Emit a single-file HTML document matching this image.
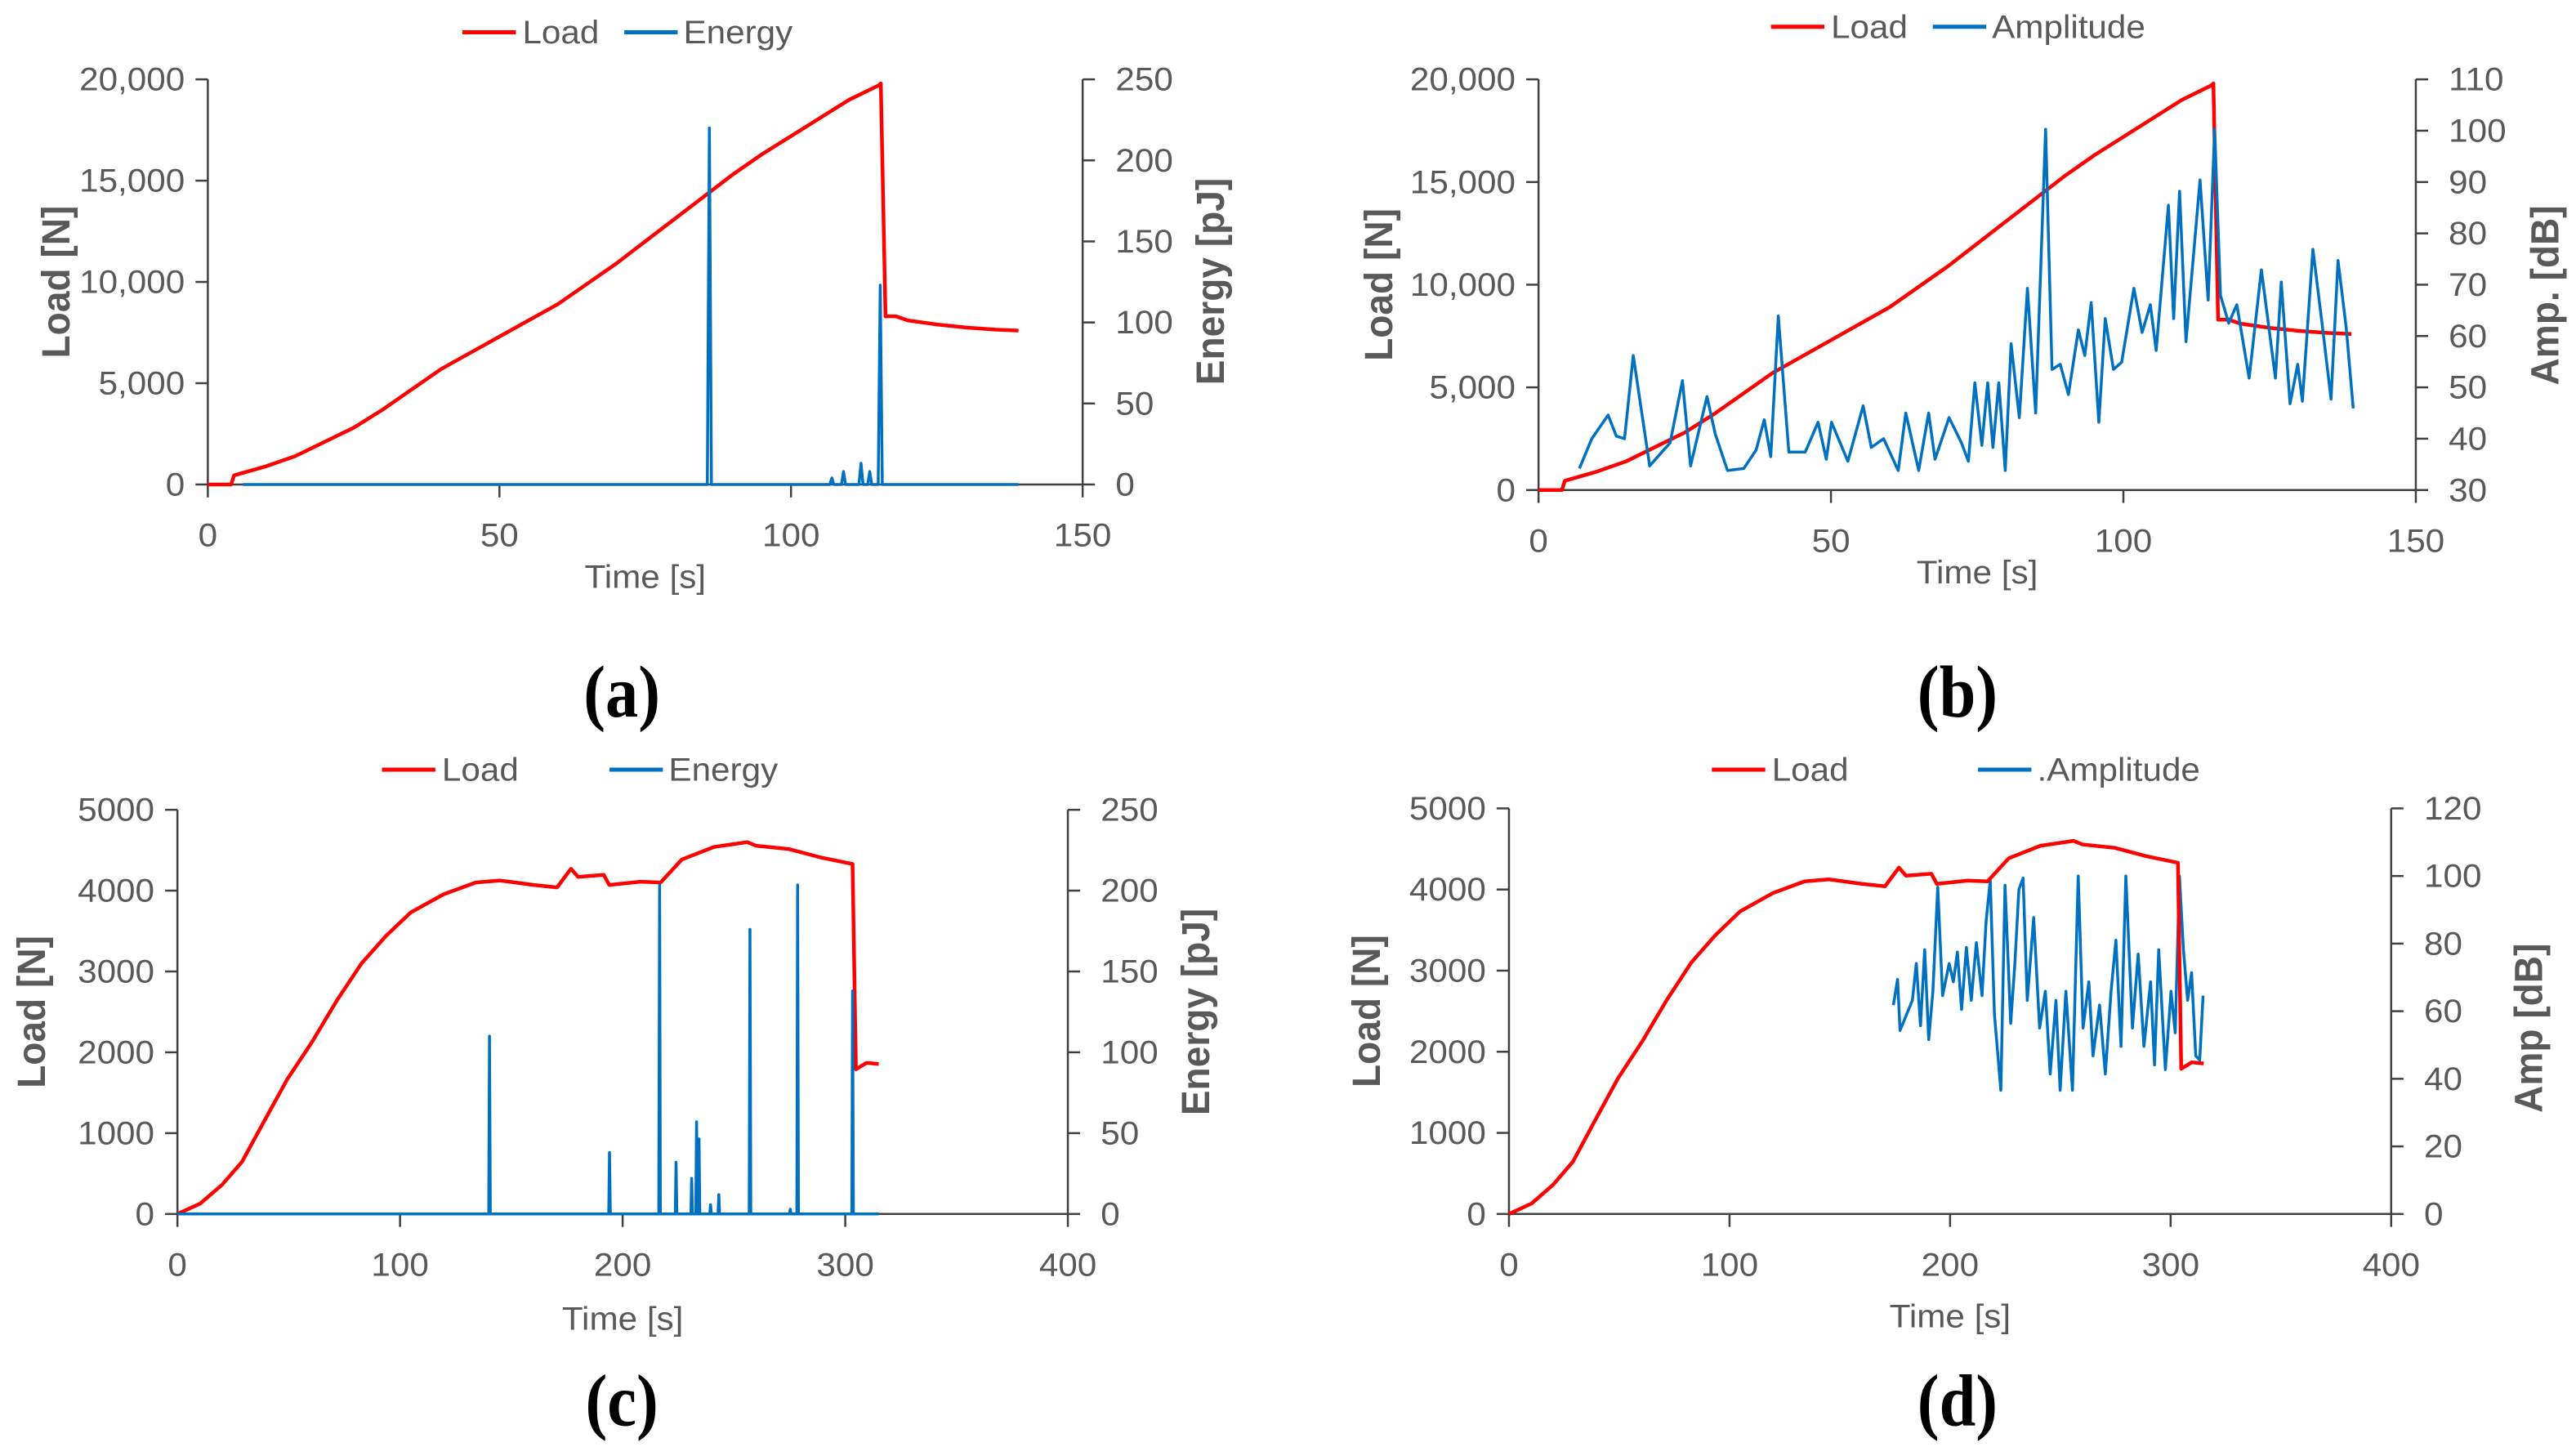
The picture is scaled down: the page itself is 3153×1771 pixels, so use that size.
<!DOCTYPE html>
<html><head><meta charset="utf-8"><style>
html,body{margin:0;padding:0;background:#fff;}
svg{display:block;}
</style></head><body>
<svg id="fig" width="3153" height="1771" viewBox="0 0 3136 3136" preserveAspectRatio="none" xmlns="http://www.w3.org/2000/svg"></svg>
<script>
// ---- Data: panel (a) / (b) ----
const loadAT = [0,4,4.5,10,15,20,25,30,35,40,45,50,55,60,65,70,75,80,85,90,95,100,105,110,115,115.4,116.2,118,120,125,130,135,139];
const loadAV = [0,0,450,900,1400,2100,2800,3700,4700,5700,6500,7300,8100,8900,9900,10900,12000,13100,14200,15300,16300,17200,18100,19000,19700,19800,8300,8300,8100,7900,7750,7650,7600];
const energyAT = [86,107,109,112,113.5,115.3];
const energyAV = [220,4,8,13,8,123];
const energyARange = [6,139];
const ampBT = [7,9.1,11.9,13.3,14.7,16.2,19,20.4,22.5,24.6,26,28.8,30.2,32.3,35.1,37.2,38.6,39.7,41,42.8,45.6,47.8,49.2,50.1,52.9,55.5,56.9,59,61.5,62.8,65,66.7,67.8,70.2,72.3,73.5,74.6,75.8,76.8,77.7,78.7,79.8,80.8,82.2,83.6,85,86.7,87.8,89.2,90.6,92.3,93.4,94.5,95.8,96.9,98.3,99.7,101.8,103.2,104.6,105.6,107.7,108.6,109.6,110.7,113.1,114.5,115.6,116.6,118,119.4,121.5,123.6,126,127,128.5,129.8,130.6,132.4,134.1,135.5,136.7,138.1,139.3];
const ampBV = [34.2,40,44.6,40.5,40,56.2,34.7,36.5,39.2,51.3,34.7,48.2,41,33.8,34.2,37.8,43.7,36.5,63.9,37.4,37.4,43.2,36,43.2,35.6,46.4,38.3,40,33.8,45,33.8,45,36,44.1,39.2,35.6,50.9,38.7,50.9,38.3,50.9,33.8,58.5,44.1,69.3,45,100.3,53.5,54.5,48.6,61.2,56.2,66.5,43.2,63.4,53.5,54.9,69.3,60.7,66.1,57.2,85.5,63.4,88.2,58.9,90.4,67,100.3,67.9,62.5,66.1,51.8,72.9,51.8,70.5,46.8,54.5,47.3,76.9,61.2,47.7,74.7,61.6,45.9];
// ---- Data: panel (c) / (d) ----
const loadCT = [0,10.3,20,29,38,49.4,60.5,71.6,82.7,93.7,104.8,119.6,134,145,160,170.5,176.8,180,191.5,194,208,217,226.6,241,256,260,274.5,289,303.3,304.8,309.6,315];
const loadCV = [0,130,360,645,1100,1670,2130,2640,3100,3440,3730,3955,4100,4125,4070,4040,4270,4170,4195,4070,4110,4100,4385,4540,4600,4555,4515,4410,4330,1790,1870,1855];
const energyCT = [140.2,194.1,216.6,224,231,233.2,234.3,239.5,243.2,257.2,275.3,278.6,303.3];
const energyCV = [110,38,203.5,32,22,57,46.5,5.7,12,176,3,203.5,138];
const energyCRange = [0,315];
const ampDT = [174.3,176.2,177.3,182.9,184.7,186.6,188.5,190.3,192.2,194.4,196.6,199.6,201.5,203.3,205.2,207.4,209.6,211.9,214.5,216.3,218.2,220.1,223,224.9,227.5,229.4,231.2,233.1,235,237.9,240.6,243.2,245.4,248,249.9,252.5,255.5,258.1,260.3,262.9,264.8,267.8,270.4,273,275.2,277.5,279.7,282.7,285.3,287.9,290.9,292.7,294.6,297.6,300.2,302.1,304,305.8,307.7,309.5,311.4,313.2,314.7];
const ampDV = [61.8,69.4,54.3,63.2,74.1,55.7,78.2,51.6,65.9,96.7,64.6,74.1,68.7,77.5,60.5,78.9,63.2,80.3,64.6,86.4,98.7,59.1,36.6,97.3,56.4,74.1,96,99.4,63.2,87.7,55,65.9,41.4,63.2,36.6,65.9,36.6,100,55,68.7,46.8,61.8,41.4,65.9,81,49.6,100,55,76.9,49.6,68.7,44.1,78.2,42.7,65.9,53.6,100,78.2,63.2,71.4,46.8,45.5,64.6];
// tick labels
const xTicksAB = [0,50,100,150];
const xTicksCD = [0,100,200,300,400];
const yTicksAB = [0,5000,10000,15000,20000];
const yTicksCD = [0,1000,2000,3000,4000,5000];
const rTicksA = [0,50,100,150,200,250];
const rTicksB = [30,40,50,60,70,80,90,100,110];
const rTicksC = [0,50,100,150,200,250];
const rTicksD = [0,20,40,60,80,100,120];

const NS = 'http://www.w3.org/2000/svg';
const svg = document.getElementById('fig');
const GREY = '#595959', AX = '#404040', RED = '#ff0000', BLUE = '#0070c0';
const OY = 1568;
function el(tag, attrs, parent){const e=document.createElementNS(NS,tag);for(const k in attrs)e.setAttribute(k,attrs[k]);(parent||svg).appendChild(e);return e;}
function txt(parent,x,y,s,opt){
  opt=opt||{};
  const sx=opt.sx||0.6, sy=opt.sy||1, size=opt.size||70;
  const g=el('g',{transform:`translate(${x},${y}) rotate(${opt.rot||0}) scale(${sx},${sy})`},parent);
  const t=el('text',{x:0,y:0,'font-family':opt.font||'"Liberation Sans", sans-serif','font-size':size,'font-weight':opt.bold?'bold':'normal',fill:opt.fill||GREY,'text-anchor':opt.anchor||'middle','dominant-baseline':'central'},g);
  t.textContent=s;
  return t;
}
function panel(c){
  const g=el('g',{});
  
  
  const X=t=>c.L+(t-c.x0)/(c.x1-c.x0)*(c.R-c.L);
  const Y=v=>c.B-(v-c.y0)/(c.y1-c.y0)*(c.B-c.T);
  const Y2=v=>c.B-(v-c.r0)/(c.r1-c.r0)*(c.B-c.T);
  const axes=el('g',{stroke:AX,'stroke-width':2.5,fill:'none'},g);
  
  
  const ln=(a)=>{a['vector-effect']='non-scaling-stroke';return el('line',a,axes);};
  ln({x1:c.L,y1:c.T,x2:c.L,y2:c.B});
  ln({x1:c.R,y1:c.T,x2:c.R,y2:c.B});
  ln({x1:c.L,y1:c.B,x2:c.R,y2:c.B});
  c.yt.forEach(v=>{ln({x1:c.L-15,y1:Y(v),x2:c.L,y2:Y(v)});
    const t=txt(g,c.L-28,Y(v),c.fmtY(v),{anchor:'end'});});
  c.rt.forEach(v=>{ln({x1:c.R,y1:Y2(v),x2:c.R+15,y2:Y2(v)});
    const t=txt(g,c.R+40,Y2(v),String(v),{anchor:'start'});});
  c.xt.forEach(v=>{ln({x1:X(v),y1:c.B,x2:X(v),y2:c.B+28});
    const t=txt(g,X(v),c.B+110,String(v),{});});
  let t=txt(g,(c.L+c.R)/2,c.xTitleY,'Time [s]',{});
  t=txt(g,c.yTitleX,(c.T+c.B)/2,'Load [N]',{rot:-90,sx:1.7,size:48,bold:true});
  t=txt(g,c.rTitleX,c.rTitleY,c.rTitle,{rot:-90,sx:1.7,size:48,bold:true});
  const lg=el('g',{},g);
  const e1=el('line',{x1:c.leg[0],y1:c.legY,x2:c.leg[0]+65,y2:c.legY,stroke:RED,'stroke-width':5,'vector-effect':'non-scaling-stroke'},lg);
  
  t=txt(lg,c.leg[0]+73,c.legY,'Load',{anchor:'start'});
  const e2=el('line',{x1:c.leg[1],y1:c.legY,x2:c.leg[1]+65,y2:c.legY,stroke:BLUE,'stroke-width':5,'vector-effect':'non-scaling-stroke'},lg);
  
  t=txt(lg,c.leg[1]+72,c.legY,c.blueName,{anchor:'start'});
  let pts;
  if(c.spikeT){
    const arr=[[c.range[0],0]];
    c.spikeT.map((tt,i)=>[tt,c.spikeV[i]]).sort((a,b)=>a[0]-b[0]).forEach(([tt,v])=>{arr.push([tt-0.35,0],[tt,v],[tt+0.35,0]);});
    arr.push([c.range[1],0]);
    pts=arr.map(p=>X(p[0]).toFixed(1)+','+Y2(p[1]).toFixed(1)).join(' ');
  } else {
    pts=c.bT.map((tt,i)=>X(tt).toFixed(1)+','+Y2(c.bV[i]).toFixed(1)).join(' ');
  }
  const bl=el('polyline',{points:pts,fill:'none',stroke:BLUE,'stroke-width':3.5,'stroke-linejoin':'round','vector-effect':'non-scaling-stroke'},g);
  
  
  const rp=c.lT.map((tt,i)=>X(tt).toFixed(1)+','+Y(c.lV[i]).toFixed(1)).join(' ');
  const rl=el('polyline',{points:rp,fill:'none',stroke:RED,'stroke-width':4.5,'stroke-linejoin':'round','vector-effect':'non-scaling-stroke'},g);
  
  
  if(c.blueOnTop) g.appendChild(bl);
  t=txt(g,c.capX,c.capY,c.cap,{sx:0.5,size:160,bold:true,fill:'#000',font:'"Liberation Serif", serif'});
  
}
const comma=v=>v.toLocaleString('en-US');
panel({name:'panel-a',L:253,R:1318,T:172,B:1050,x0:0,x1:150,y0:0,y1:20000,r0:0,r1:250,
  xt:xTicksAB,yt:yTicksAB,rt:rTicksA,fmtY:comma,xTitleY:1250,yTitleX:68,rTitleX:1473,rTitleY:610,rTitle:'Energy [pJ]',
  leg:[563,760],legY:70,blueName:'Energy',spikeT:energyAT,spikeV:energyAV,range:energyARange,lT:loadAT,lV:loadAV,
  cap:'(a)',capX:757,capY:1500,blueOnTop:true});
panel({name:'panel-b',L:1568+305,R:1568+1373,T:172,B:1062,x0:0,x1:150,y0:0,y1:20000,r0:30,r1:110,
  xt:xTicksAB,yt:yTicksAB,rt:rTicksB,fmtY:comma,xTitleY:1240,yTitleX:1568+110,rTitleX:1568+1530,rTitleY:640,rTitle:'Amp. [dB]',
  leg:[1568+588,1568+785],legY:58,blueName:'Amplitude',bT:ampBT,bV:ampBV,lT:loadAT,lV:loadAV,
  cap:'(b)',capX:1568+815,capY:1500,blueOnTop:true});
panel({name:'panel-c',L:216,R:1300,T:OY+187,B:OY+1063,x0:0,x1:400,y0:0,y1:5000,r0:0,r1:250,
  xt:xTicksCD,yt:yTicksCD,rt:rTicksC,fmtY:String,xTitleY:OY+1290,yTitleX:38,rTitleX:1455,rTitleY:OY+625,rTitle:'Energy [pJ]',
  leg:[465,742],legY:OY+100,blueName:'Energy',spikeT:energyCT,spikeV:energyCV,range:energyCRange,lT:loadCT,lV:loadCV,
  cap:'(c)',capX:757,capY:OY+1468,blueOnTop:true});
panel({name:'panel-d',L:1568+269,R:1568+1343,T:OY+184,B:OY+1063,x0:0,x1:400,y0:0,y1:5000,r0:0,r1:120,
  xt:xTicksCD,yt:yTicksCD,rt:rTicksD,fmtY:String,xTitleY:OY+1285,yTitleX:1568+95,rTitleX:1568+1510,rTitleY:OY+660,rTitle:'Amp [dB]',
  leg:[1568+516,1568+840],legY:OY+100,blueName:'.Amplitude',bT:ampDT,bV:ampDV,lT:loadCT,lV:loadCV,
  cap:'(d)',capX:1568+815,capY:OY+1468,blueOnTop:false});
</script>
</body></html>
